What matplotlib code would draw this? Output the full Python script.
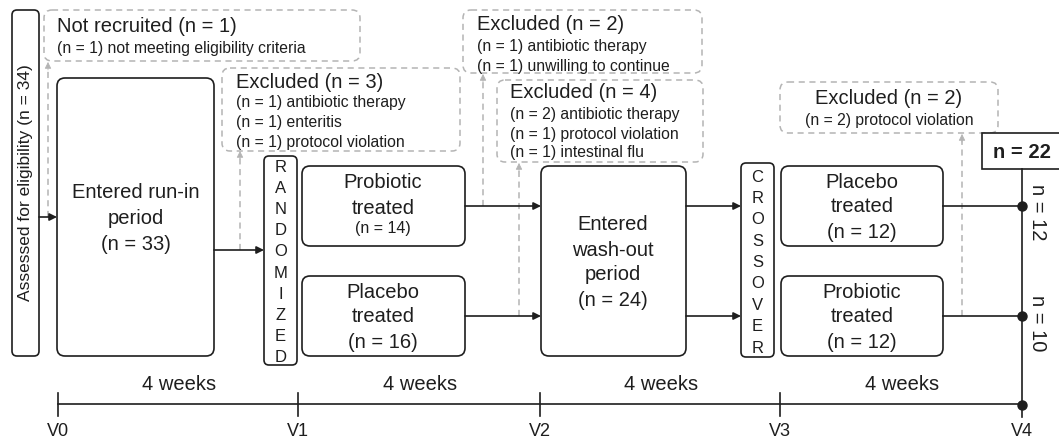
"""Flow diagram of the crossover trial (run-in, randomisation, wash-out, crossover)."""
import matplotlib
matplotlib.use('Agg')
import matplotlib.pyplot as plt
from matplotlib.patches import FancyBboxPatch, Rectangle

plt.rcParams['font.family'] = ['Liberation Sans', 'DejaVu Sans']

# ---- data: counts and labels ----
assessed_n = 34
not_recruited = [('not meeting eligibility criteria', 1)]
runin_n = 33
excl_runin = [('antibiotic therapy', 1), ('enteritis', 1), ('protocol violation', 1)]
period1 = ['Probiotic', 'Placebo']
period1_n = [14, 16]
excl_probiotic1 = [('antibiotic therapy', 1), ('unwilling to continue', 1)]
excl_placebo1 = [('antibiotic therapy', 2), ('protocol violation', 1), ('intestinal flu', 1)]
washout_n = 24
period2 = ['Placebo', 'Probiotic']
period2_n = [12, 12]
excl_period2 = [('protocol violation', 2)]
completed_n = [12, 10]
visits = ['V0', 'V1', 'V2', 'V3', 'V4']
durations = ['4 weeks', '4 weeks', '4 weeks', '4 weeks']

DARK = '#1e1e1e'
GREY = '#b4b4b4'
BIG = 14.5
SMALL = 11.3

fig = plt.figure(figsize=(10.59, 4.41), dpi=100)
ax = fig.add_axes([0, 0, 1, 1])
ax.set_xlim(0, 1059)
ax.set_ylim(441, 0)
ax.axis('off')


def box(x0, y0, x1, y1, dashed=False, r=8):
    p = FancyBboxPatch((x0, y0), x1 - x0, y1 - y0,
                       boxstyle='round,pad=0,rounding_size=%d' % r,
                       fc='white', ec=GREY if dashed else DARK,
                       lw=1.1 if dashed else 1.2,
                       ls=(0, (4, 3)) if dashed else '-', zorder=2)
    ax.add_patch(p)


def lines(x, ys, texts, sizes, ha='center'):
    for yy, t, s in zip(ys, texts, sizes):
        ax.text(x, yy, t, fontsize=s, ha=ha, va='center', color=DARK, zorder=4)


def arrow(x0, y0, x1, y1):
    ax.annotate('', xy=(x1, y1), xytext=(x0, y0),
                arrowprops=dict(arrowstyle='-|>', color=DARK, lw=1.2,
                                mutation_scale=11, shrinkA=0, shrinkB=0), zorder=3)


def dashed_arrow(x, y0, y1):
    ax.plot([x, x], [y0, y1 + 6], color=GREY, lw=1.1, ls=(0, (4, 3)), zorder=1)
    ax.annotate('', xy=(x, y1), xytext=(x, y1 + 8),
                arrowprops=dict(arrowstyle='-|>', color=GREY, lw=0.5,
                                mutation_scale=10, shrinkA=0, shrinkB=0), zorder=1)


def excl_box(x0, y0, x1, y1, total, reasons, ys, tx, center=False):
    box(x0, y0, x1, y1, dashed=True)
    texts = [total] + ['(n = %d) %s' % (n, reason) for reason, n in reasons]
    sizes = [BIG] + [SMALL] * len(reasons)
    lines(tx, ys, texts, sizes, ha='center' if center else 'left')


def vert_letters(word, xc, y0, step):
    for i, ch in enumerate(word):
        ax.text(xc, y0 + i * step, ch, fontsize=12, ha='center', va='center',
                color=DARK, zorder=4)


# assessed
box(12, 10, 39, 356, r=5)
ax.text(26, 183, 'Assessed for eligibility (n = %d)' % assessed_n, rotation=90,
        fontsize=12.5, ha='center', va='center', color=DARK, zorder=4)
arrow(39, 217, 57, 217)
dashed_arrow(48, 217, 62)
excl_box(44, 10, 360, 61, 'Not recruited (n = %d)' % sum(n for _, n in not_recruited),
         not_recruited, [27, 49], 57)

# run-in
box(57, 78, 214, 356)
lines(136, [193, 219, 244], ['Entered run-in', 'period', '(n = %d)' % runin_n], [BIG] * 3)
arrow(214, 250, 264, 250)
dashed_arrow(240, 250, 151)
excl_box(222, 68, 460, 151, 'Excluded (n = %d)' % sum(n for _, n in excl_runin),
         excl_runin, [82, 103, 123, 142], 236)

# randomized
box(264, 156, 297, 365, r=5)
vert_letters('RANDOMIZED', 280.5, 167, 21.2)

# period 1
p1_y = [(166, 246), (276, 356)]
p1_text_y = [[183, 209, 229], [293, 317, 342]]
for name, n, (y0, y1), ty in zip(period1, period1_n, p1_y, p1_text_y):
    box(302, y0, 465, y1)
    lines(383, ty, [name, 'treated', '(n = %d)' % n],
          [BIG, BIG, 11.5 if n == 14 else BIG])
arrow(465, 206, 541, 206)
arrow(465, 316, 541, 316)
dashed_arrow(483, 206, 74)
dashed_arrow(519, 316, 163)
excl_box(463, 10, 702, 73, 'Excluded (n = %d)' % sum(n for _, n in excl_probiotic1),
         excl_probiotic1, [25, 47, 66], 477)
excl_box(497, 80, 703, 162, 'Excluded (n = %d)' % sum(n for _, n in excl_placebo1),
         excl_placebo1, [93, 115, 135, 153], 510)

# wash-out
box(541, 166, 686, 356)
lines(613, [225, 250, 274, 300],
      ['Entered', 'wash-out', 'period', '(n = %d)' % washout_n], [BIG] * 4)
arrow(686, 206, 741, 206)
arrow(686, 316, 741, 316)

# crossover
box(741, 163, 774, 357, r=5)
vert_letters('CROSSOVER', 757.5, 177, 21.4)

# period 2
v4x = 1022
p2_text_y = [[183, 207, 232], [292, 317, 342]]
for name, n, (y0, y1), ty, yl in zip(period2, period2_n, p1_y, p2_text_y, [206, 316]):
    box(781, y0, 943, y1)
    lines(862, ty, [name, 'treated', '(n = %d)' % n], [BIG] * 3)
    ax.plot([943, v4x], [yl, yl], color=DARK, lw=1.2, zorder=3)
dashed_arrow(962, 316, 134)
excl_box(780, 82, 998, 133, 'Excluded (n = %d)' % sum(n for _, n in excl_period2),
         excl_period2, [99, 121], 889, center=True)

# completed
ax.add_patch(Rectangle((982, 133), 90, 36, fc='white', ec=DARK, lw=1.2, zorder=2))
ax.text(1022, 152, 'n = %d' % sum(completed_n), fontsize=14.5, fontweight='bold',
        ha='center', va='center', color=DARK, zorder=4)
ax.plot([v4x, v4x], [169, 417], color=DARK, lw=1.2, zorder=3)
for yy, n, ty in zip([206, 316], completed_n, [212, 323]):
    ax.plot(v4x, yy, 'o', color=DARK, ms=6.5, zorder=5)
    ax.text(1038, ty, 'n = %d' % n, rotation=-90, fontsize=14.5, ha='center',
            va='center', color=DARK, zorder=4)

# timeline
vx = [58, 298, 540, 780, v4x]
ax.plot([vx[0], vx[-1]], [404, 404], color=DARK, lw=1.2, zorder=3)
ax.plot(v4x, 405, 'o', color=DARK, ms=6.5, zorder=5)
for x, lab in zip(vx, visits):
    if lab != 'V4':
        ax.plot([x, x], [393, 416], color=DARK, lw=1.2, zorder=3)
    ax.text(x, 432, lab, fontsize=13, ha='center', va='center', color=DARK)
for x0, x1, lab in zip(vx[:-1], vx[1:], durations):
    ax.text((x0 + x1) / 2 + 1, 385, lab, fontsize=14.5, ha='center', va='center', color=DARK)

fig.savefig('out.png', dpi=100, facecolor='white')
plt.close(fig)
